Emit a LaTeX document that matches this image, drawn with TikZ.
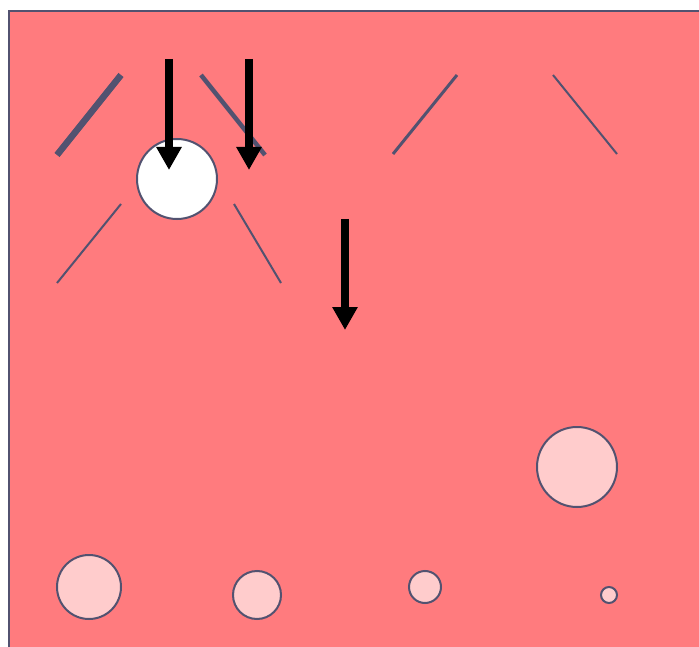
\documentclass[tikz,border=0pt]{standalone}
\usetikzlibrary{arrows.meta}
\definecolor{bgred}{HTML}{FF7B7E}
\definecolor{slate}{HTML}{525270}
\definecolor{lightpink}{HTML}{FFCCCC}
\tikzset{
  bar/.style={draw=slate, line cap=butt},
  bubble/.style={circle, draw=slate, line width=2pt, fill=lightpink, inner sep=0pt},
  downarrow/.style={black, line width=8pt, -{Triangle[width=24pt,length=23pt]}}
}
\begin{document}
\begin{tikzpicture}[x=1pt,y=-1pt]
\useasboundingbox (0,0) rectangle (699,647);
\clip (0,0) rectangle (699,647);
\draw[draw=slate, line width=2pt, fill=bgred] (9,11) rectangle (720,680);
% slanted bars
\draw[bar, line width=6.5pt] (57,155) -- (121,75);
\draw[bar, line width=4.5pt] (201,75) -- (265,155);
\draw[bar, line width=2pt] (57,283) -- (121,204);
\draw[bar, line width=2pt] (234,204) -- (281,283);
\draw[bar, line width=3pt] (393,154) -- (457,75);
\draw[bar, line width=2pt] (553,75) -- (617,154);
% white circle
\node[circle, draw=slate, line width=2pt, fill=white, minimum size=80pt, inner sep=0pt] (w) at (177,179) {};
% arrows
\coordinate (a1s) at (169,59); \coordinate (a1e) at (169,170);
\coordinate (a2s) at (249,59); \coordinate (a2e) at (249,170);
\coordinate (a3s) at (345,219); \coordinate (a3e) at (345,330);
\draw[downarrow] (a1s) -- (a1e);
\draw[downarrow] (a2s) -- (a2e);
\draw[downarrow] (a3s) -- (a3e);
% pink circles
\node[bubble, minimum size=80pt] (b1) at (577,467) {};
\node[bubble, minimum size=64pt] (b2) at (89,587) {};
\node[bubble, minimum size=48pt] (b3) at (257,595) {};
\node[bubble, minimum size=32pt] (b4) at (425,587) {};
\node[bubble, minimum size=16pt] (b5) at (609,595) {};
\end{tikzpicture}
\end{document}
